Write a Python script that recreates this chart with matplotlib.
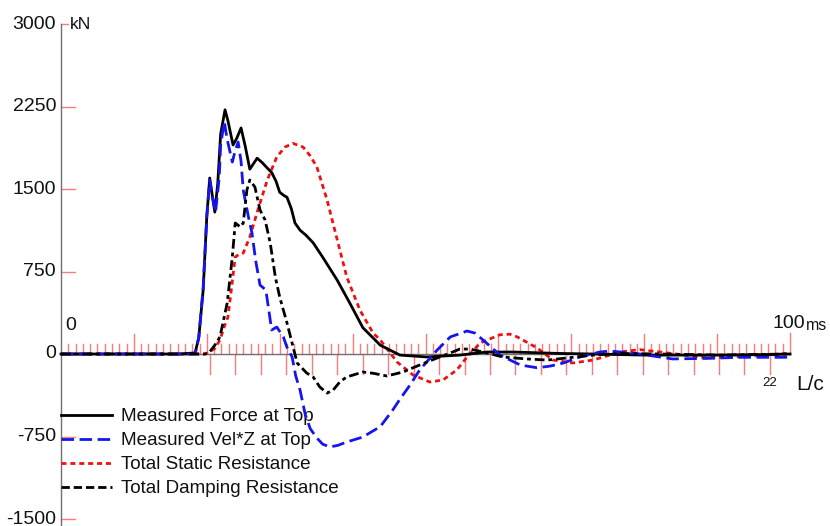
import matplotlib
matplotlib.use("Agg")
import matplotlib.pyplot as plt
import numpy as np

plt.rcParams['font.family'] = ['Liberation Sans', 'DejaVu Sans']

# ---- signals (time in ms, force in kN) ----
t_force = [0, 16.3, 18.4, 18.9, 19.5, 20.0, 20.4, 20.8, 21.1, 21.5, 21.9, 22.5, 22.9, 23.6,
           24.1, 24.7, 25.3, 25.9, 26.3, 26.9, 27.6, 28.3, 28.9, 29.5, 30.0, 30.6, 31.0,
           31.6, 32.1, 32.8, 33.6, 34.6, 35.9, 37.9, 39.6, 41.4, 43.8, 46.5, 50.2, 54.7,
           58.4, 62.0, 68.4, 73.0, 80.0, 90.0, 97.0, 100.0]
force = [0, 0, 10, 150, 580, 1250, 1600, 1420, 1290, 1550, 2000, 2220, 2120, 1900,
         1960, 2055, 1880, 1680, 1720, 1780, 1740, 1690, 1650, 1570, 1470, 1440, 1425,
         1320, 1190, 1125, 1080, 1010, 880, 670, 465, 240, 80, -10, -27, -10,
         18, 18, 5, 0, -10, -10, -5, 0]

t_velz = [0, 16.3, 18.4, 18.9, 19.5, 20.0, 20.4, 20.8, 21.2, 21.7, 21.9, 22.4, 22.8, 23.5,
          23.9, 24.3, 24.7, 25.0, 25.7, 26.2, 26.7, 27.3, 28.1, 28.5, 28.9, 29.6, 30.5,
          31.0, 31.7, 32.2, 32.8, 33.5, 34.2, 35.1, 35.9, 36.9, 38.0, 39.2, 41.4, 43.8,
          45.5, 46.5, 47.9, 49.2, 51.6, 53.4, 55.7, 56.8, 57.9, 60.2, 63.0, 65.3, 67.1,
          68.9, 71.2, 73.9, 75.3, 78.1, 79.4, 83.9, 88.6, 93.1, 99.6]
velz = [0, 0, 0, 150, 600, 1250, 1580, 1420, 1290, 1600, 1900, 2110, 1950, 1745,
        1850, 1927, 1750, 1490, 1250, 1100, 850, 627, 582, 400, 218, 245, 155,
        60, -27, -200, -330, -550, -680, -764, -820, -845, -830, -800, -755, -660,
        -510, -410, -280, -145, 36, 155, 209, 190, 127, -9, -100, -125, -110,
        -82, -27, 18, 27, 10, 0, -45, -40, -30, -30]

t_static = [0, 19.8, 21.1, 21.8, 22.4, 22.9, 23.3, 23.9, 24.4, 25.0, 25.9, 27.0, 28.3,
            29.6, 30.7, 31.8, 33.2, 34.2, 35.1, 36.5, 37.9, 39.2, 41.0, 42.8, 43.8,
            46.1, 48.3, 50.6, 52.4, 54.3, 55.7, 57.5, 60.2, 61.6, 62.6, 65.3, 67.5,
            70.2, 73.0, 76.7, 79.4, 82.2, 84.9, 88.6, 93.1, 96.8, 99.6]
static = [0, 0, 50, 127, 250, 336, 550, 882, 905, 918, 1064, 1309, 1582,
          1791, 1880, 1915, 1882, 1800, 1700, 1400, 1036, 700, 400, 191, 127,
          -73, -191, -255, -236, -145, -27, 100, 175, 180, 155, 55, -55,
          -82, -55, 18, 40, 18, -5, -36, -25, -10, 5]

t_damp = [0, 19.8, 20.4, 21.1, 21.8, 22.8, 23.5, 23.9, 24.6, 25.0, 25.5, 25.9, 26.6,
          27.3, 28.0, 28.7, 29.4, 30.0, 31.0, 31.7, 32.4, 33.7, 34.6, 35.5, 36.5,
          37.3, 38.3, 39.2, 41.4, 42.8, 44.7, 46.9, 49.2, 51.6, 53.4, 54.7, 56.1,
          57.9, 60.6, 63.9, 66.7, 69.4, 73.0, 76.7, 82.2, 90.4, 99.6]
damp = [0, 0, 20, 80, 155, 464, 882, 1191, 1155, 1191, 1491, 1582, 1518,
        1309, 1218, 1009, 700, 518, 282, 100, -82, -173, -210, -300, -355,
        -330, -250, -209, -164, -175, -200, -164, -100, -36, 9, 45, 45,
        18, -27, -45, -55, -36, -10, 5, 0, -10, 0]

series_labels = ["Measured Force at Top", "Measured Vel*Z at Top",
                 "Total Static Resistance", "Total Damping Resistance"]
y_tick_values = [3000, 2250, 1500, 750, 0, -750, -1500]
lc_tick_count = 22          # number of L/c intervals marked below the time axis
lc_start_ms = 20.44         # time of the first L/c mark
lc_step_ms = 3.491          # 2L/c spacing in ms

# ---- figure ----
W, H = 830, 526
fig = plt.figure(figsize=(W / 100, H / 100), dpi=100)
ax = fig.add_axes([0, 0, 1, 1])
ax.set_axis_off()

x0_px, ms_px = 61.0, 7.29          # pixel of t=0 and pixels per ms
y0_px, kn_px = 354.0, 82.5 / 750   # pixel of 0 kN and pixels per kN
ax.set_xlim(-x0_px / ms_px, (W - x0_px) / ms_px)
ax.set_ylim(-(H - y0_px) / kn_px, y0_px / kn_px)

px_x = 1 / ms_px      # one pixel in ms
px_y = 1 / kn_px      # one pixel in kN
tick_red = '#ff7a7a'
axis_grey = '#707070'
txt_col = '#111111'

# axes lines
ax.plot([0, 0], [-1600, 3000], color=axis_grey, lw=1.0, zorder=2)
ax.plot([0, 100], [0, 0], color=axis_grey, lw=1.0, zorder=2)

# time ticks above axis: every ms short, every 10 ms long
for ms in range(1, 101):
    h = 20 * px_y if ms % 10 == 0 else 10 * px_y
    if ms == 100:
        h = 21 * px_y
    ax.plot([ms, ms], [0, h], color=tick_red, lw=1.0, zorder=1)

# L/c ticks below axis
for k in range(lc_tick_count + 1):
    tt = lc_start_ms + k * lc_step_ms
    ax.plot([tt, tt], [0, -20 * px_y], color=tick_red, lw=1.0, zorder=1)

# y-axis ticks and labels
for v in y_tick_values:
    ln = 7 if v == 3000 else 14
    ax.plot([0, ln * px_x], [v, v], color=tick_red, lw=1.0, zorder=1)
    ax.text(-5 * px_x, v, f"{v}", ha='right', va='center', fontsize=14, color=txt_col)

ax.text(9 * px_x, 3000, "kN", ha='left', va='center', fontsize=12.5, color=txt_col)
ax.text(9.5 * px_x, 28 * px_y, "0", ha='center', va='center', fontsize=14, color=txt_col)
ax.text(100 - 1 * px_x, 31 * px_y, "100", ha='center', va='center', fontsize=14, color=txt_col)
ax.text(100 + 16 * px_x, 29 * px_y, "ms", ha='left', va='center', fontsize=11.5, color=txt_col)
ax.text(lc_start_ms + lc_tick_count * lc_step_ms, -29 * px_y, f"{lc_tick_count}",
        ha='center', va='center', fontsize=9.5, color=txt_col)
ax.text(100 + 6 * px_x, -30 * px_y, "L/c", ha='left', va='center', fontsize=15, color=txt_col)

# curves
lw = 2.0
l1, = ax.plot(t_force, force, color='black', lw=lw, zorder=5)
l2, = ax.plot(t_velz, velz, color='#1515ee', lw=lw, linestyle=(0, (4.5, 2)), zorder=6)
l3, = ax.plot(t_static, static, color='#ee1111', lw=lw, linestyle=(0, (1.8, 1.4)), zorder=4)
l4, = ax.plot(t_damp, damp, color='black', lw=lw, linestyle=(0, (3.5, 1.4, 1.4, 1.4)), zorder=7)

# legend
h4, = ax.plot([], [], color='black', lw=lw, linestyle=(0, (3, 1.4)))
leg = ax.legend([l1, l2, l3, h4], series_labels, loc='upper left',
                bbox_to_anchor=(61 / W, 1 - 408 / H), frameon=False,
                fontsize=13.6, handlelength=2.7, handletextpad=0.45,
                labelspacing=0.36, borderpad=0.0, borderaxespad=0.0)
for txt in leg.get_texts():
    txt.set_color(txt_col)

fig.savefig("out.png", dpi=100)
